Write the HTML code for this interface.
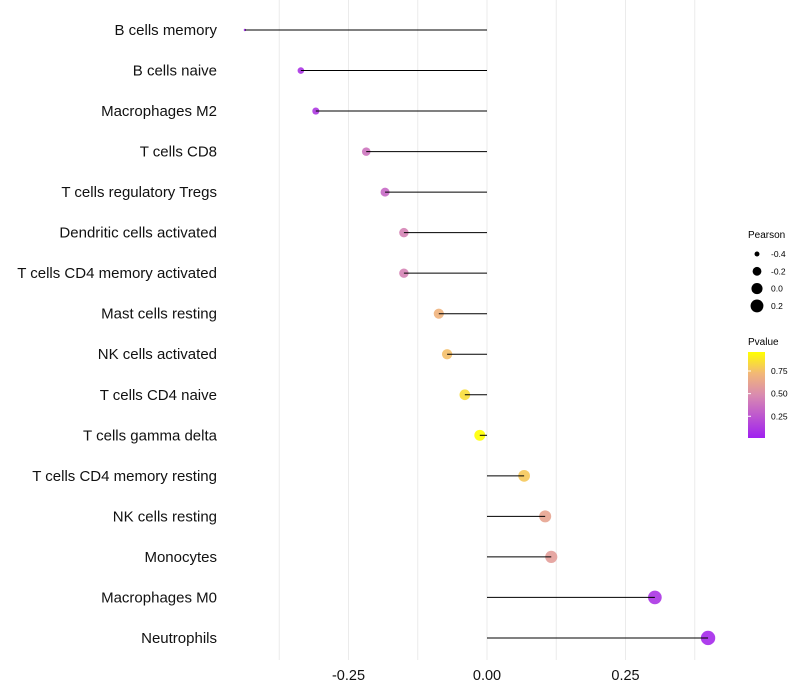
<!DOCTYPE html>
<html><head><meta charset="utf-8"><style>
body{margin:0;background:#fff;font-family:"Liberation Sans",sans-serif}
svg{display:block}
</style></head><body>
<svg id="chart" width="800" height="700">
<defs><linearGradient id="pg" x1="0" y1="1" x2="0" y2="0">
<stop offset="0" stop-color="#a020f0"/><stop offset="0.5" stop-color="#d98bb0"/><stop offset="0.75" stop-color="#f2b777"/><stop offset="1" stop-color="#ffff00"/></linearGradient></defs>
<g id="grid"></g><g id="dots"></g><g id="marks"></g><g id="ylab"></g><g id="xlab"></g>
<g id="legend">
<text x="748" y="238" font-size="10">Pearson</text>
<g id="sizeleg"></g>
<text x="748" y="345" font-size="10">Pvalue</text>
<rect x="748" y="352" width="17" height="86" fill="url(#pg)"/>
<g id="colleg"></g>
</g>
</svg>
<script>
const categories=["B cells memory","B cells naive","Macrophages M2","T cells CD8","T cells regulatory  Tregs","Dendritic cells activated","T cells CD4 memory activated","Mast cells resting","NK cells activated","T cells CD4 naive","T cells gamma delta","T cells CD4 memory resting","NK cells resting","Monocytes","Macrophages M0","Neutrophils"];
const pearson=[-0.437,-0.336,-0.309,-0.218,-0.184,-0.150,-0.150,-0.087,-0.072,-0.040,-0.013,0.067,0.105,0.116,0.303,0.399];
const pvalue=[0.03,0.1,0.12,0.38,0.33,0.45,0.45,0.7,0.75,0.85,0.97,0.78,0.62,0.58,0.1,0.05];
const xTicks=[-0.25,0,0.25];
const xTickLabels=["-0.25","0.00","0.25"];
const minorTicks=[-0.375,-0.125,0.125,0.375];
const sizeLegend=[-0.4,-0.2,0.0,0.2];
const colorLegend=[0.25,0.5,0.75];
const NS="http://www.w3.org/2000/svg";
const x=v=>487+v*554;
const y=i=>30+i*40.53;
const pmin=Math.min(...pearson),pmax=Math.max(...pearson);
const r=v=>{const t=Math.max(0,Math.min(1,(v-pmin)/(pmax-pmin)));return 1.2*(1+5*Math.sqrt(t));};
const stops=[[0,[160,32,240]],[0.5,[217,139,176]],[0.75,[242,183,119]],[1,[255,255,0]]];
function col(p){p=(p-0.01)/0.95;p=Math.max(0,Math.min(1,p));for(let k=1;k<stops.length;k++){if(p<=stops[k][0]){const a=stops[k-1],b=stops[k],t=(p-a[0])/(b[0]-a[0]);return "rgb("+a[1].map((c,j)=>Math.round(c+(b[1][j]-c)*t)).join(",")+")";}}return "rgb(255,255,0)";}
function mk(tag,at,parent){const e=document.createElementNS(NS,tag);for(const k in at)e.setAttribute(k,at[k]);document.getElementById(parent).appendChild(e);return e;}
[...xTicks,...minorTicks].forEach(v=>{const l=mk("line",{x1:x(v),x2:x(v),y1:0,y2:660,stroke:"#ebebeb","stroke-width":1},"grid");

});
categories.forEach((c,i)=>{
const d=mk("circle",{cx:x(pearson[i]),cy:y(i),r:r(pearson[i]),fill:col(pvalue[i]),"fill-opacity":0.9},"dots");


const s=mk("line",{x1:x(0),x2:x(pearson[i]),y1:y(i),y2:y(i),stroke:"#000","stroke-width":1},"marks");


const t=mk("text",{x:217,y:y(i)+5,"text-anchor":"end","font-size":15,fill:"#111"},"ylab");t.textContent=c;


});
xTicks.forEach((v,i)=>{const t=mk("text",{x:x(v),y:680,"text-anchor":"middle","font-size":14.5,fill:"#111"},"xlab");t.textContent=xTickLabels[i];

});
sizeLegend.forEach((v,i)=>{const cy=254+i*17.3;
const c=mk("circle",{cx:757,cy:cy,r:r(v),fill:"#000"},"sizeleg");


const t=mk("text",{x:771,y:cy+3,"font-size":8.5},"sizeleg");t.textContent=v.toFixed(1);

});
colorLegend.forEach(v=>{const cy=438-(v-0.01)/0.95*86;
const l=mk("line",{x1:748,x2:751,y1:cy,y2:cy,stroke:"#fff"},"colleg");


const t=mk("text",{x:771,y:cy+3,"font-size":8.5},"colleg");t.textContent=v.toFixed(2);

});
</script>
</body></html>
